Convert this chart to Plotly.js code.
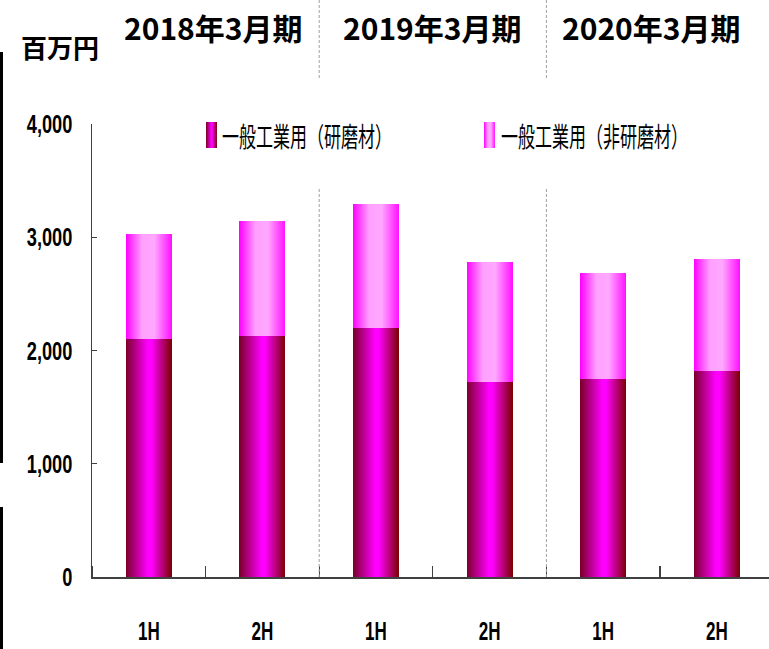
<!DOCTYPE html>
<html>
<head>
<meta charset="utf-8">
<script src="https://cdn.plot.ly/plotly-3.0.1.min.js"></script>
<style>html,body{margin:0;padding:0;background:#fff;}#chart{width:769px;height:649px;}</style>
</head>
<body>
<div id="chart"></div>
<script>
// ---- data ----
const periods = ['2018年3月期', '2019年3月期', '2020年3月期'];
const halves = ['1H', '2H', '1H', '2H', '1H', '2H'];
const seriesNames = ['一般工業用（研磨材）', '一般工業用（非研磨材）'];
const abrasive = [2100, 2130, 2200, 1720, 1750, 1820];
const nonAbrasive = [930, 1010, 1090, 1060, 935, 985];
const yTicks = [0, 1000, 2000, 3000, 4000];
const unitLabel = '百万円';

const xIdx = halves.map((_, i) => i);
const boundaries = [-0.5].concat(xIdx.map(i => i + 0.5));

const traces = [
  {type: 'bar', x: xIdx, y: abrasive, name: seriesNames[0], width: 0.405,
   marker: {color: '#c000a0', line: {width: 0}}, showlegend: false, hoverinfo: 'y'},
  {type: 'bar', x: xIdx, y: nonAbrasive, name: seriesNames[1], width: 0.405,
   marker: {color: '#ff80ff', line: {width: 0}}, showlegend: false, hoverinfo: 'y'}
];

const PW = 677, PH = 453, L = 92, T = 124;
const px = v => (v - L) / PW;
const py = v => (T + PH - v) / PH;

const annotations = [];
periods.forEach((p, i) => {
  annotations.push({xref: 'paper', yref: 'paper', x: [px(213), px(432), px(651)][i], y: py(27),
    text: p, showarrow: false, xanchor: 'center', yanchor: 'middle',
    font: {family: 'Noto Sans CJK JP', size: 30, weight: 700, color: '#000'}});
});
annotations.push({xref: 'paper', yref: 'paper', x: px(60), y: py(46), text: unitLabel, showarrow: false,
  xanchor: 'center', yanchor: 'middle', font: {family: 'Noto Sans CJK JP', size: 26, weight: 700, color: '#000'}});
// legend texts
annotations.push({xref: 'paper', yref: 'paper', x: px(220), y: py(135), text: seriesNames[0], showarrow: false,
  xanchor: 'left', yanchor: 'middle', font: {family: 'Noto Sans CJK JP', size: 27, color: '#000'}});
annotations.push({xref: 'paper', yref: 'paper', x: px(499), y: py(135), text: seriesNames[1], showarrow: false,
  xanchor: 'left', yanchor: 'middle', font: {family: 'Noto Sans CJK JP', size: 27, color: '#000'}});

const sepStyle = {color: '#a0a0a0', width: 1, dash: '3px,2px'};
const shapes = [];
[1.5, 3.5].forEach(b => {
  shapes.push({type: 'line', xref: 'x', yref: 'paper', x0: b, x1: b, y0: py(0), y1: py(80), line: sepStyle});
  shapes.push({type: 'line', xref: 'x', yref: 'paper', x0: b, x1: b, y0: py(189), y1: py(577), line: sepStyle});
});
// legend swatches
shapes.push({type: 'rect', xref: 'paper', yref: 'paper', x0: px(206), x1: px(217), y0: py(148), y1: py(122),
  fillcolor: '#c000a0', line: {width: 0}});
shapes.push({type: 'rect', xref: 'paper', yref: 'paper', x0: px(484), x1: px(495), y0: py(148), y1: py(122),
  fillcolor: '#ff80ff', line: {width: 0}});
// left edge black bars
shapes.push({type: 'rect', xref: 'paper', yref: 'paper', x0: px(0), x1: px(3), y0: py(463), y1: py(52),
  fillcolor: '#000', line: {width: 0}});
shapes.push({type: 'rect', xref: 'paper', yref: 'paper', x0: px(0), x1: px(3), y0: py(649), y1: py(507),
  fillcolor: '#000', line: {width: 0}});

const layout = {
  width: 769, height: 649,
  margin: {l: L, r: 0, t: T, b: 649 - T - PH, pad: 0},
  paper_bgcolor: '#fff', plot_bgcolor: '#fff',
  barmode: 'stack', bargap: 0.6,
  showlegend: false,
  xaxis: {range: [-0.5, -0.5 + PW / 113.6], tickvals: xIdx, ticktext: halves, ticks: '',
    showline: true, linecolor: '#404040', linewidth: 1.5, showgrid: false, zeroline: false,
    ticklabelstandoff: 33,
    tickfont: {family: 'Liberation Sans', size: 24, weight: 700, color: '#000'},
    minor: {tickvals: boundaries, ticks: 'inside', ticklen: 11, tickcolor: '#404040', tickwidth: 1.2, showgrid: false}},
  yaxis: {range: [0, 4000], tickvals: yTicks, tickformat: ',d', ticks: 'inside', ticklen: 5,
    tickcolor: '#404040', tickwidth: 1.2, showline: true, linecolor: '#404040', linewidth: 1.5,
    showgrid: false, zeroline: false, ticklabelstandoff: 13,
    tickfont: {family: 'Liberation Sans', size: 26, weight: 700, color: '#000'}},
  annotations: annotations,
  shapes: shapes
};

function squeeze(t, sx, sy, ax, ay) {
  const prev = t.getAttribute('transform') || '';
  t.setAttribute('transform', `${prev} translate(${ax},${ay}) scale(${sx},${sy}) translate(${-ax},${-ay})`);
}

Plotly.newPlot('chart', traces, layout, {displayModeBar: false, staticPlot: true}).then(gd => {
  const svg = gd.querySelector('svg.main-svg');
  const NS = 'http://www.w3.org/2000/svg';
  const defs = document.createElementNS(NS, 'defs');
  function grad(id, stops) {
    const g = document.createElementNS(NS, 'linearGradient');
    g.setAttribute('id', id);
    g.setAttribute('x1', '0'); g.setAttribute('y1', '0'); g.setAttribute('x2', '1'); g.setAttribute('y2', '0');
    stops.forEach(s => {
      const st = document.createElementNS(NS, 'stop');
      st.setAttribute('offset', s[0]); st.setAttribute('stop-color', s[1]);
      g.appendChild(st);
    });
    defs.appendChild(g);
  }
  grad('gLow', [[0, '#7a0028'], [0.48, '#ff00ff'], [0.56, '#ff00ff'], [1, '#7a0000']]);
  grad('gHigh', [[0, '#ff00ff'], [0.35, '#ffa0ff'], [0.62, '#ffa8ff'], [1, '#ff10ff']]);
  svg.insertBefore(defs, svg.firstChild);
  gd.querySelectorAll('g.trace.bars').forEach((t, i) => {
    t.querySelectorAll('path').forEach(p => { p.style.fill = i === 0 ? 'url(#gLow)' : 'url(#gHigh)'; });
  });
  gd.querySelectorAll('g.shapelayer path').forEach(p => {
    const idx = +p.getAttribute('data-index');
    if (idx === 4) p.style.fill = 'url(#gLow)';
    if (idx === 5) p.style.fill = 'url(#gHigh)';
  });
  // condense legend text horizontally
  gd.querySelectorAll('g.annotation').forEach(a => {
    const idx = +a.getAttribute('data-index');
    if (idx === 4 || idx === 5) {
      const t = a.querySelector('text.annotation-text');
      const bb = t.getBBox();
      squeeze(t, 0.63, 1, bb.x, 0);
    }
  });
  // narrow tick labels
  gd.querySelectorAll('g.ytick text').forEach(t => {
    const bb = t.getBBox();
    squeeze(t, 0.7, 1, bb.x + bb.width, 0);
  });
  gd.querySelectorAll('g.xtick text').forEach(t => {
    const bb = t.getBBox();
    squeeze(t, 0.71, 1.1, bb.x + bb.width / 2, bb.y + bb.height * 0.78);
  });
});
</script>
</body>
</html>
